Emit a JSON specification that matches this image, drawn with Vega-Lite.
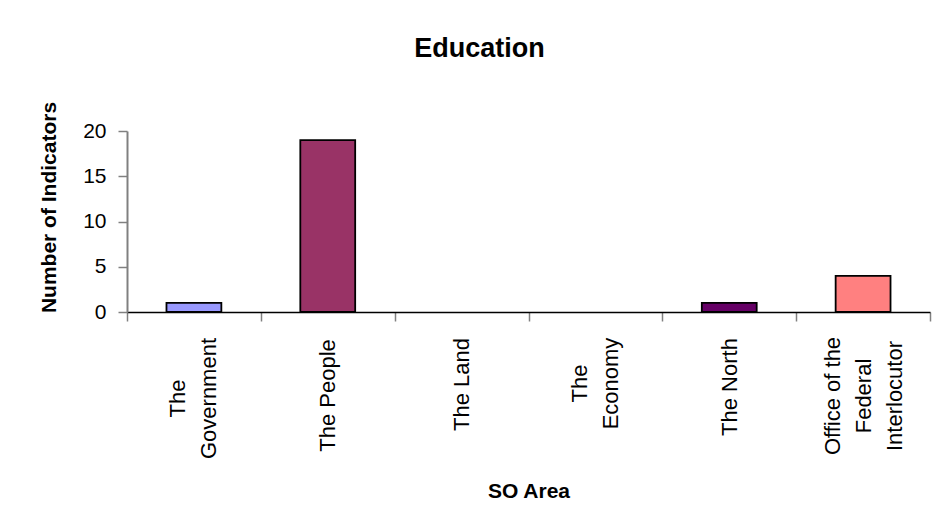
{
  "$schema": "https://vega.github.io/schema/vega-lite/v6.json",
  "width": 803,
  "height": 181,
  "autosize": {"type": "none"},
  "padding": {"left": 127, "top": 131, "right": 6, "bottom": 217},
  "background": "white",
  "config": {"view": {"stroke": null}, "font": "Liberation Sans"},
  "title": {
    "text": "Education",
    "font": "Liberation Sans",
    "fontSize": 27,
    "fontWeight": "bold",
    "color": "black",
    "anchor": "middle",
    "frame": "group",
    "baseline": "alphabetic",
    "offset": 17,
    "dx": -49
  },
  "data": {
    "values": [
      {"area": "The|Government", "count": 1},
      {"area": "The People", "count": 19},
      {"area": "The Land", "count": 0},
      {"area": "The|Economy", "count": 0},
      {"area": "The North", "count": 1},
      {"area": "Office of the|Federal|Interlocutor", "count": 4}
    ]
  },
  "mark": {"type": "bar", "stroke": "black", "strokeWidth": 1.8, "width": {"band": 0.41}},
  "encoding": {
    "x": {
      "field": "area",
      "type": "nominal",
      "sort": null,
      "scale": {"paddingInner": 0, "paddingOuter": 0},
      "axis": {
        "title": "SO Area",
        "titleFont": "Liberation Sans",
        "titleFontSize": 21,
        "titleFontWeight": "bold",
        "titleColor": "black",
        "titleY": 179,
        "titleBaseline": "middle",
        "domainColor": "black",
        "domainWidth": 1.5,
        "tickColor": "#808080",
        "tickWidth": 1.5,
        "tickSize": 9,
        "tickBand": "extent",
        "labelAngle": -90,
        "labelAlign": "center",
        "labelBaseline": "middle",
        "labelFontSize": 22,
        "labelColor": "black",
        "labelLineHeight": 31,
        "labelBound": false,
        "labelOverlap": false,
        "labelLimit": 0,
        "labelExpr": "split(datum.label, '|')",
        "labelOffset": {
          "condition": [
            {"test": "datum.value == 'The|Government'", "value": -16},
            {"test": "datum.value == 'The|Economy'", "value": -16},
            {"test": "datum.value == 'Office of the|Federal|Interlocutor'", "value": -31}
          ],
          "value": 0
        },
        "labelPadding": {
          "condition": [
            {"test": "datum.value == 'The|Government'", "value": 77},
            {"test": "datum.value == 'The People'", "value": 74},
            {"test": "datum.value == 'The Land'", "value": 63},
            {"test": "datum.value == 'The|Economy'", "value": 62},
            {"test": "datum.value == 'The North'", "value": 65.5}
          ],
          "value": 74.5
        }
      }
    },
    "y": {
      "field": "count",
      "type": "quantitative",
      "scale": {"domain": [0, 20], "nice": false},
      "axis": {
        "title": "Number of Indicators",
        "titleFont": "Liberation Sans",
        "titleFontSize": 21,
        "titleFontWeight": "bold",
        "titleColor": "black",
        "titleAngle": -90,
        "titleX": -78,
        "titleY": 76,
        "titleAlign": "center",
        "titleBaseline": "middle",
        "values": [0, 5, 10, 15, 20],
        "grid": false,
        "domainColor": "#808080",
        "domainWidth": 2,
        "tickColor": "#808080",
        "tickWidth": 1.5,
        "tickSize": 9,
        "labelFontSize": 21,
        "labelColor": "black",
        "labelPadding": 12,
        "labelBound": false
      }
    },
    "strokeOpacity": {
      "condition": {"test": "datum.count == 0", "value": 0},
      "value": 1
    },
    "color": {
      "field": "area",
      "type": "nominal",
      "sort": null,
      "scale": {
        "domain": ["The|Government", "The People", "The Land", "The|Economy", "The North", "Office of the|Federal|Interlocutor"],
        "range": ["#9999FF", "#993366", "#FFFFCC", "#CCFFFF", "#660066", "#FF8080"]
      },
      "legend": null
    }
  }
}
